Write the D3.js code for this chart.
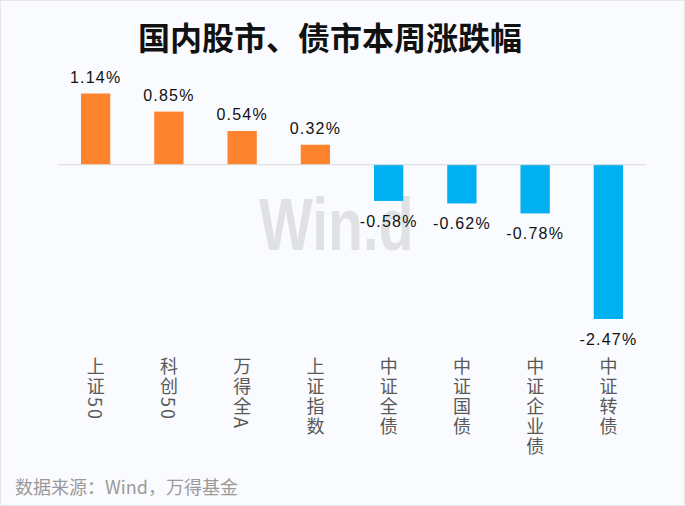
<!DOCTYPE html>
<html>
<head>
<meta charset="utf-8">
<script src="https://cdn.jsdelivr.net/npm/d3@7"></script>
<style>
  body { margin: 0; background: #fff; }
  svg { display: block; }
</style>
</head>
<body>
<svg id="chart" width="685" height="506"></svg>
<script>
// chart data
const categories = ["上证50", "科创50", "万得全A", "上证指数", "中证全债", "中证国债", "中证企业债", "中证转债"];
const changes = [1.14, 0.85, 0.54, 0.32, -0.58, -0.62, -0.78, -2.47];

const title = "国内股市、债市本周涨跌幅";
const source = "数据来源：Wind，万得基金";

const width = 685;
const height = 506;

const svg = d3.select("#chart");

// background panel
svg.append("rect")
  .attr("x", 0.5).attr("y", 0.5)
  .attr("width", width - 1).attr("height", height - 1)
  .attr("fill", "#fafbfe")
  .attr("stroke", "#e6e6e6");

// title
svg.append("text")
  .attr("x", 330)
  .attr("y", 50)
  .attr("text-anchor", "middle")
  .attr("font-family", "'Noto Sans CJK SC', sans-serif")
  .attr("font-weight", "bold")
  .attr("font-size", 32)
  .attr("fill", "#111")
  .text(title);

// watermark, squeezed horizontally like the original
svg.append("text")
  .attr("transform", "translate(259,250) scale(0.77,1)")
  .attr("font-family", "'Liberation Sans', Arial, sans-serif")
  .attr("font-weight", "bold")
  .attr("font-size", 74)
  .attr("fill", "#e0e1e3")
  .text("Win.d");

// scales
const x = d3.scaleBand()
  .domain(categories)
  .range([59, 645])
  .paddingInner(0.6)
  .paddingOuter(0.3);

const y = d3.scaleLinear()
  .domain([-2.47, 1.14])
  .range([319, 93.5]);

// bars
const rows = categories.map((c, i) => ({ name: c, value: changes[i] }));

svg.append("g")
  .selectAll("rect")
  .data(rows)
  .join("rect")
  .attr("x", (d) => x(d.name))
  .attr("width", x.bandwidth())
  .attr("y", (d) => y(Math.max(0, d.value)))
  .attr("height", (d) => Math.abs(y(d.value) - y(0)))
  .attr("fill", (d) => (d.value >= 0 ? "#fe832e" : "#00b0f0"));

// zero line
svg.append("line")
  .attr("x1", 59).attr("x2", 645)
  .attr("y1", y(0)).attr("y2", y(0))
  .attr("stroke", "#d9d9d9")
  .attr("stroke-width", 1);

// value labels
svg.append("g")
  .selectAll("text")
  .data(rows)
  .join("text")
  .attr("x", (d) => x(d.name) + x.bandwidth() / 2)
  .attr("y", (d) => (d.value >= 0 ? y(d.value) - 11 : y(d.value) + 26))
  .attr("text-anchor", "middle")
  .attr("font-family", "'Liberation Sans', Arial, sans-serif")
  .attr("font-size", 16)
  .attr("letter-spacing", 1.2)
  .attr("fill", "#111")
  .text((d) => d.value.toFixed(2) + "%");

// category labels, written vertically
svg.append("g")
  .selectAll("text")
  .data(categories)
  .join("text")
  .attr("x", (d) => x(d) + x.bandwidth() / 2)
  .attr("y", 357)
  .style("writing-mode", "vertical-rl")
  .attr("font-family", "'Noto Sans CJK SC', sans-serif")
  .attr("font-size", 18)
  .attr("letter-spacing", 2)
  .attr("fill", "#595959")
  .text((d) => d);

// source note
svg.append("text")
  .attr("x", 15)
  .attr("y", 494)
  .attr("font-family", "'Noto Sans CJK SC', sans-serif")
  .attr("font-size", 18)
  .attr("fill", "#9a9a9a")
  .text(source);
</script>
</body>
</html>
